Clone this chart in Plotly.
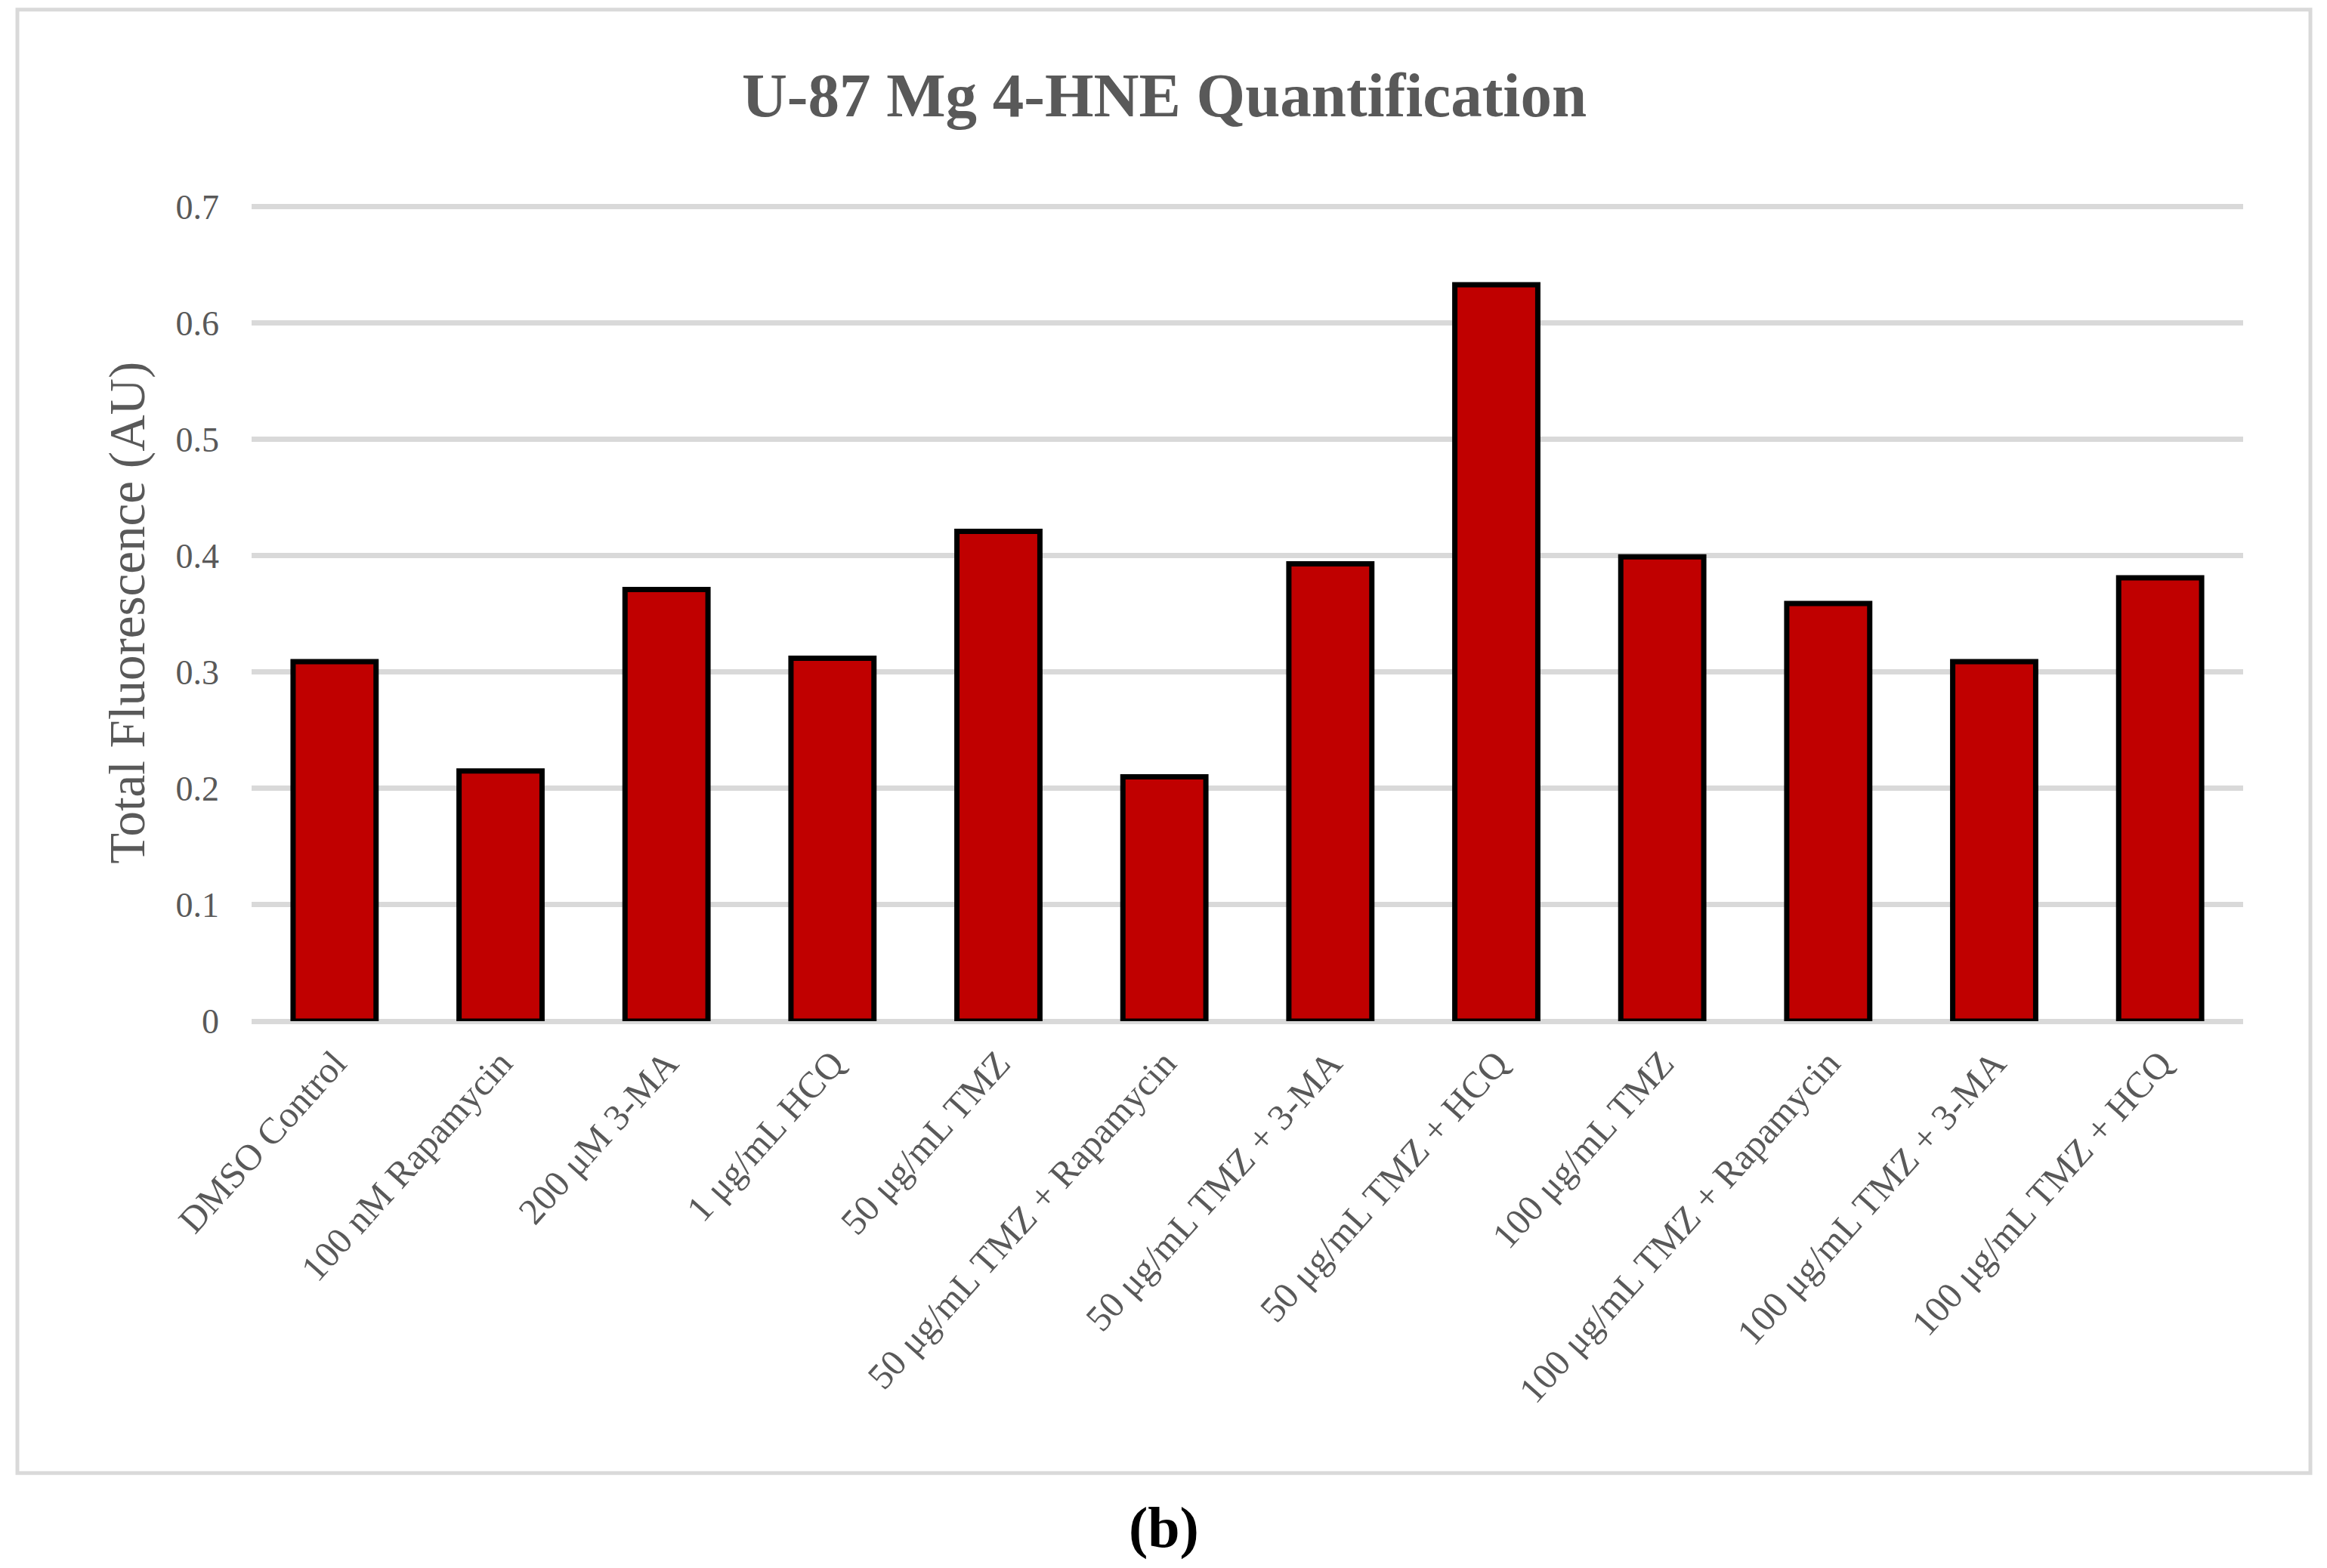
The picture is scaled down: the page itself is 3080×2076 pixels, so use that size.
import plotly.graph_objects as go

# ---- data ----
categories = [
    "DMSO Control",
    "100 nM Rapamycin",
    "200 μM 3-MA",
    "1 μg/mL HCQ",
    "50 μg/mL TMZ",
    "50 μg/mL TMZ + Rapamycin",
    "50 μg/mL TMZ + 3-MA",
    "50 μg/mL TMZ + HCQ",
    "100 μg/mL TMZ",
    "100 μg/mL TMZ + Rapamycin",
    "100 μg/mL TMZ + 3-MA",
    "100 μg/mL TMZ + HCQ",
]
values = [0.309, 0.215, 0.371, 0.312, 0.421, 0.210, 0.393, 0.633, 0.399, 0.359, 0.309, 0.381]
y_tick_vals = [0, 0.1, 0.2, 0.3, 0.4, 0.5, 0.6, 0.7]
y_tick_text = ["0", "0.1", "0.2", "0.3", "0.4", "0.5", "0.6", "0.7"]

title_text = "U-87 Mg 4-HNE Quantification"
y_title_text = "Total Fluorescence (AU)"
panel_label = "(b)"

# ---- layout geometry (pixels in the screenshot; page body has an 8px margin) ----
OFF = 8
W, H = 3080 - 2 * OFF, 2076 - 2 * OFF
Y_MAX = 0.705  # a little headroom so the 0.7 gridline is drawn
L = 333 - OFF
R = 2969 - OFF
B = 1352 - OFF
T = (1352 - Y_MAX * 1540) - OFF  # 0.1 unit = 154 px


def px_x(p):
    return (p - OFF - L) / (R - L)


def px_y(p):
    return (B - (p - OFF)) / (B - T)


FONT = "Liberation Serif"
GREY = "#595959"

fig = go.Figure(
    go.Bar(
        x=categories,
        y=values,
        marker=dict(color="#C00000", line=dict(color="#000000", width=7)),
        showlegend=False,
    )
)

fig.update_layout(
    width=W,
    height=H,
    margin=dict(l=L, r=W - R, t=T, b=H - B, pad=0),
    paper_bgcolor="white",
    plot_bgcolor="white",
    bargap=0.5,
    title=dict(
        text=title_text,
        x=(1541 - OFF) / W,
        xref="container",
        xanchor="center",
        y=1 - (125 - OFF) / H,
        yref="container",
        yanchor="middle",
        font=dict(family=FONT, size=83, color=GREY, weight="bold"),
    ),
    xaxis=dict(
        type="category",
        tickangle=-48,
        tickfont=dict(family=FONT, size=49, color=GREY),
        showgrid=False,
        showline=False,
        ticks="",
        ticklabelstandoff=16,
    ),
    yaxis=dict(
        range=[0, Y_MAX],
        tickvals=y_tick_vals,
        ticktext=y_tick_text,
        tickfont=dict(family=FONT, size=46, color=GREY),
        showgrid=True,
        gridcolor="#D9D9D9",
        gridwidth=7,
        zeroline=True,
        zerolinecolor="#D9D9D9",
        zerolinewidth=7,
        showline=False,
        ticks="",
        ticklabelstandoff=42,
    ),
    annotations=[
        dict(
            text=y_title_text,
            xref="paper",
            yref="paper",
            x=px_x(169),
            y=px_y(812),
            xanchor="center",
            yanchor="middle",
            textangle=-90,
            showarrow=False,
            font=dict(family=FONT, size=67, color=GREY),
        ),
        dict(
            text=panel_label,
            xref="paper",
            yref="paper",
            x=px_x(1540),
            y=px_y(2022),
            xanchor="center",
            yanchor="middle",
            showarrow=False,
            font=dict(family=FONT, size=76, color="#000000", weight="bold"),
        ),
    ],
    shapes=[
        dict(
            type="rect",
            xref="paper",
            yref="paper",
            x0=px_x(23),
            x1=px_x(3058),
            y0=px_y(1950),
            y1=px_y(13),
            line=dict(color="#D9D9D9", width=5),
            fillcolor="rgba(0,0,0,0)",
            layer="below",
        )
    ],
)

fig.write_html("out.html")
